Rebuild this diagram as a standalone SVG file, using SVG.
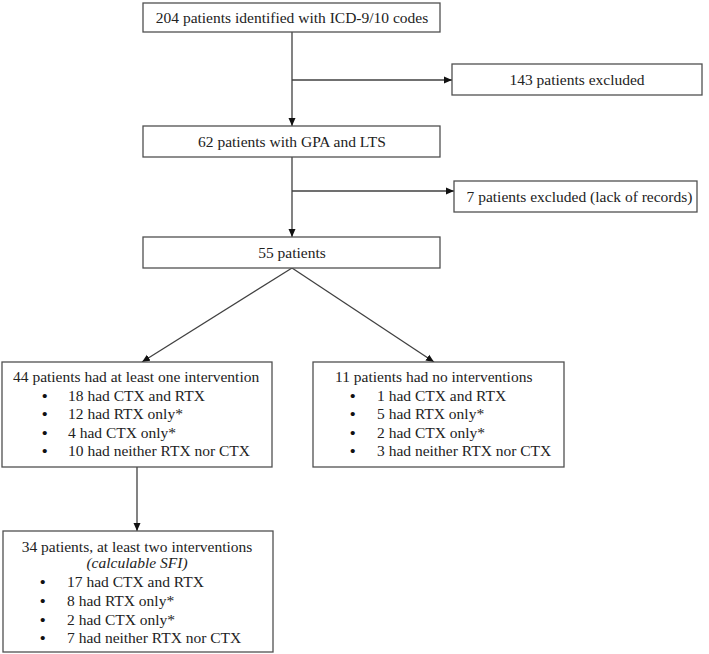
<svg xmlns="http://www.w3.org/2000/svg" width="709" height="654" viewBox="0 0 709 654">
<defs>
<style>
.box{fill:#fff;stroke:#505050;stroke-width:1.3}
.t{font-family:"Liberation Serif","Times New Roman","DejaVu Serif",serif;font-size:15.5px;fill:#222}
.b{font-weight:bold;fill:#111}
.c{text-anchor:middle}
.i{font-style:italic}
.ln{fill:none;stroke:#404040;stroke-width:1.3}
</style>
<marker id="ah" markerWidth="8" markerHeight="8" refX="8" refY="4" orient="auto" markerUnits="userSpaceOnUse">
<path d="M0,0.5 L8,4 L0,7.5 Z" fill="#111"/>
</marker>
</defs>
<rect width="709" height="654" fill="#fff"/>
<g id="connectors">
<line class="ln" x1="292" y1="32" x2="292" y2="126" marker-end="url(#ah)"/>
<line class="ln" x1="292" y1="80" x2="452" y2="80" marker-end="url(#ah)"/>
<line class="ln" x1="292" y1="157" x2="292" y2="237" marker-end="url(#ah)"/>
<line class="ln" x1="292" y1="191" x2="454" y2="191" marker-end="url(#ah)"/>
<line class="ln" x1="292" y1="268" x2="142" y2="362" marker-end="url(#ah)"/>
<line class="ln" x1="292" y1="268" x2="434" y2="362" marker-end="url(#ah)"/>
<line class="ln" x1="137" y1="467" x2="137" y2="531" marker-end="url(#ah)"/>
</g>
<g id="n1">
<rect class="box" x="143" y="3" width="297" height="29"/>
<text class="t c" x="292" y="23">204 patients identified with ICD-9/10 codes</text>
</g>
<g id="n2">
<rect class="box" x="452" y="64" width="250" height="31"/>
<text class="t c" x="577" y="85">143 patients excluded</text>
</g>
<g id="n3">
<rect class="box" x="143" y="126" width="297" height="31"/>
<text class="t c" x="292" y="147">62 patients with GPA and LTS</text>
</g>
<g id="n4">
<rect class="box" x="454" y="181" width="243" height="31"/>
<text class="t c" x="579.5" y="202">7 patients excluded (lack of records)</text>
</g>
<g id="n5">
<rect class="box" x="143" y="237" width="297" height="31"/>
<text class="t c" x="292" y="258">55 patients</text>
</g>
<g id="n6">
<rect class="box" x="2" y="362" width="270" height="105"/>
<text class="t" x="13" y="382">44 patients had at least one intervention</text>
<text class="t" y="400.5"><tspan class="b" x="42">•</tspan><tspan x="68">18 had CTX and RTX</tspan></text>
<text class="t" y="419"><tspan class="b" x="42">•</tspan><tspan x="68">12 had RTX only*</tspan></text>
<text class="t" y="437.5"><tspan class="b" x="42">•</tspan><tspan x="68">4 had CTX only*</tspan></text>
<text class="t" y="456"><tspan class="b" x="42">•</tspan><tspan x="68">10 had neither RTX nor CTX</tspan></text>
</g>
<g id="n7">
<rect class="box" x="313" y="362" width="251" height="105"/>
<text class="t" x="335" y="382">11 patients had no interventions</text>
<text class="t" y="400.5"><tspan class="b" x="350">•</tspan><tspan x="377">1 had CTX and RTX</tspan></text>
<text class="t" y="419"><tspan class="b" x="350">•</tspan><tspan x="377">5 had RTX only*</tspan></text>
<text class="t" y="437.5"><tspan class="b" x="350">•</tspan><tspan x="377">2 had CTX only*</tspan></text>
<text class="t" y="456"><tspan class="b" x="350">•</tspan><tspan x="377">3 had neither RTX nor CTX</tspan></text>
</g>
<g id="n8">
<rect class="box" x="3" y="531" width="270" height="121"/>
<text class="t c" x="137" y="552">34 patients, at least two interventions</text>
<text class="t c i" x="137" y="568">(calculable SFI)</text>
<text class="t" y="587"><tspan class="b" x="40">•</tspan><tspan x="67">17 had CTX and RTX</tspan></text>
<text class="t" y="606"><tspan class="b" x="40">•</tspan><tspan x="67">8 had RTX only*</tspan></text>
<text class="t" y="625"><tspan class="b" x="40">•</tspan><tspan x="67">2 had CTX only*</tspan></text>
<text class="t" y="643"><tspan class="b" x="40">•</tspan><tspan x="67">7 had neither RTX nor CTX</tspan></text>
</g>
</svg>
